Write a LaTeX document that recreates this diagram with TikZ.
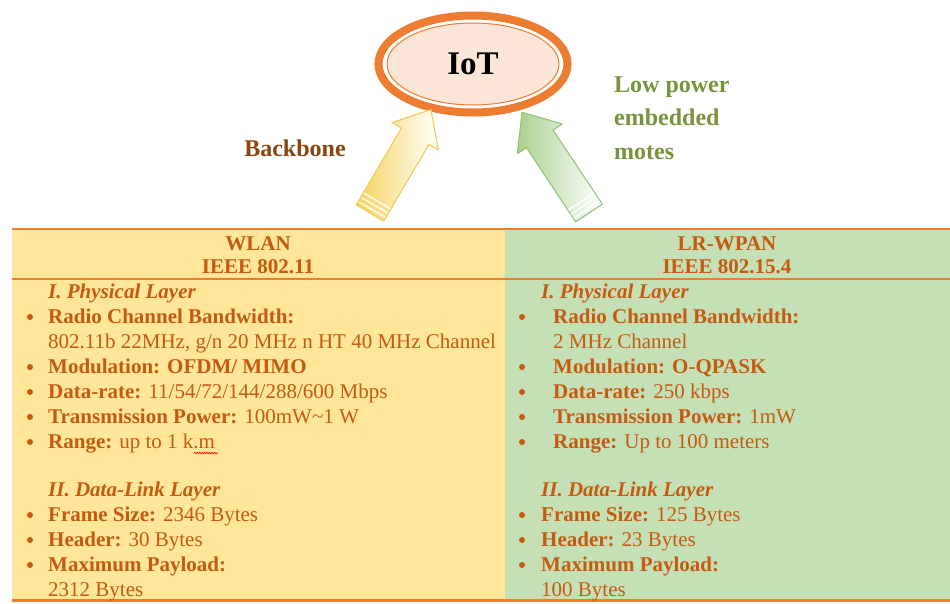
\documentclass[tikz,border=0pt]{standalone}
\usepackage{fontspec}
\setmainfont{Liberation Serif}
\usetikzlibrary{shapes.geometric,decorations.pathmorphing}
\definecolor{ocol}{HTML}{ED7D31}
\definecolor{tcol}{HTML}{C55A11}
\definecolor{yfill}{HTML}{FFE699}
\definecolor{gfill}{HTML}{C5E0B4}
\definecolor{peach}{HTML}{FBE5D6}
\definecolor{bbrown}{HTML}{8A4512}
\definecolor{olive}{HTML}{77933C}
\definecolor{yarrow}{HTML}{F7D35C}
\definecolor{yedge}{HTML}{EFC94C}
\definecolor{garrow}{HTML}{A9D18E}
\definecolor{gedge}{HTML}{8FC27A}
\tikzset{
  txt/.style={anchor=base west, inner sep=0pt, text=tcol, font=\fontsize{21}{25}\selectfont},
  hdr/.style={anchor=base, inner sep=0pt, text=tcol, font=\fontsize{21}{25}\selectfont\bfseries},
  dot/.style={circle, fill=tcol, inner sep=0pt, minimum size=6pt},
  rule/.style={draw=ocol},
  blockarrow/.style={line width=1pt, line join=round},
}
\begin{document}
\begin{tikzpicture}[x=1pt,y=-1pt]
\useasboundingbox (0,0) rectangle (950,603);
% table background
\fill[yfill] (12,229) rectangle (505,600);
\fill[gfill] (505,229) rectangle (950,600);
\draw[rule, line width=2.5pt] (12,229) -- (950,229);
\draw[rule, line width=2pt] (12,279) -- (950,279);
\draw[rule, line width=3pt] (12,600.5) -- (950,600.5);

% IoT ellipse
\node[ellipse, draw=ocol, line width=8pt, fill=white, minimum width=189pt, minimum height=97pt, inner sep=0pt] (iot) at (473,64) {};
\node[ellipse, draw=ocol, line width=1pt, fill=peach, minimum width=172pt, minimum height=82pt, inner sep=0pt,
      font=\fontsize{33}{36}\selectfont\bfseries] (iottext) at (iot.center) {IoT};

% yellow arrow
\begin{scope}[shift={(370,213)}, rotate=59.5]
  \path[blockarrow, left color=yarrow, right color=white, draw=yedge]
    (0,-16) -- (89,-16) -- (89,-27) -- (120,0) -- (89,27) -- (89,16) -- (0,16) -- cycle;
  \draw[white, line width=1.3pt] (4,-15.5) -- (4,15.5) (9,-15.5) -- (9,15.5) (14,-15.5) -- (14,15.5);
\end{scope}
% green arrow
\begin{scope}[shift={(589,213)}, rotate=123.6]
  \path[blockarrow, left color=garrow, right color=white, draw=gedge]
    (0,-16) -- (89,-16) -- (89,-27) -- (121,0) -- (89,27) -- (89,16) -- (0,16) -- cycle;
  \draw[white, line width=1.3pt] (4,-15.5) -- (4,15.5) (9,-15.5) -- (9,15.5) (14,-15.5) -- (14,15.5);
\end{scope}

% side labels
\node[inner sep=0pt, text=bbrown, font=\fontsize{24}{28}\selectfont\bfseries] (backbone) at (295,148) {Backbone};
\node[anchor=base west, inner sep=0pt, text=olive, align=left,
      font=\fontsize{24}{33.5}\selectfont\bfseries] (lowpower) at (614,159) {Low power\\embedded\\motes};

% headers
\node[hdr] (h1a) at (258,250) {WLAN};
\node[hdr] (h1b) at (258,273) {IEEE 802.11};
\node[hdr] (h2a) at (727,250) {LR-WPAN};
\node[hdr] (h2b) at (727,273) {IEEE 802.15.4};

% left column
\node[txt] (l0) at (48,298) {\bfseries\itshape I. Physical Layer};
\node[txt] (l1) at (48,323) {\bfseries Radio Channel Bandwidth:};
\node[txt] (l1b) at (48,348) {802.11b 22MHz, g/n 20 MHz n HT 40 MHz Channel};
\node[txt] (l2) at (48,373) {\bfseries Modulation: OFDM/ MIMO};
\node[txt] (l3) at (48,398) {\textbf{Data-rate:} 11/54/72/144/288/600 Mbps};
\node[txt] (l4) at (48,423) {\textbf{Transmission Power:} 100mW\textasciitilde1 W};
\node[txt] (l5) at (48,448) {\textbf{Range:} up to 1 k.m};
\node[txt] (l6) at (48,496) {\bfseries\itshape II. Data-Link Layer};
\node[txt] (l7) at (48,521) {\textbf{Frame Size:} 2346 Bytes};
\node[txt] (l8) at (48,546) {\textbf{Header:} 30 Bytes};
\node[txt] (l9) at (48,571) {\bfseries Maximum Payload:};
\node[txt] (l9b) at (48,596) {2312 Bytes};
\foreach \y/\n in {323/a,373/b,398/c,423/d,448/e,521/f,546/g,571/h}
  \node[dot] (lb\n) at (30,\y-6) {};
\draw[red, line width=0.6pt, decoration={snake, amplitude=0.8pt, segment length=2.5pt}, decorate] (194,453) -- (218,453);

% right column
\node[txt] (r0) at (541,298) {\bfseries\itshape I. Physical Layer};
\node[txt] (r1) at (553,323) {\bfseries Radio Channel Bandwidth:};
\node[txt] (r1b) at (553,348) {2 MHz Channel};
\node[txt] (r2) at (553,373) {\bfseries Modulation: O-QPASK};
\node[txt] (r3) at (553,398) {\textbf{Data-rate:} 250 kbps};
\node[txt] (r4) at (553,423) {\textbf{Transmission Power:} 1mW};
\node[txt] (r5) at (553,448) {\textbf{Range:} Up to 100 meters};
\node[txt] (r6) at (541,496) {\bfseries\itshape II. Data-Link Layer};
\node[txt] (r7) at (541,521) {\textbf{Frame Size:} 125 Bytes};
\node[txt] (r8) at (541,546) {\textbf{Header:} 23 Bytes};
\node[txt] (r9) at (541,571) {\bfseries Maximum Payload:};
\node[txt] (r9b) at (541,596) {100 Bytes};
\foreach \y/\n in {323/a,373/b,398/c,423/d,448/e,521/f,546/g,571/h}
  \node[dot] (rb\n) at (522,\y-6) {};
\end{tikzpicture}
\end{document}
